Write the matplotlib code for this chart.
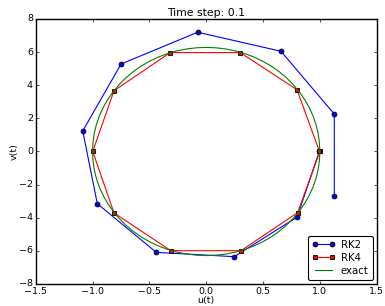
import matplotlib
matplotlib.use("Agg")
import matplotlib.pyplot as plt

plt.style.use("classic")

# RK2 solution points (u, v)
rk2_u = [0.995, 0.800, 0.247, -0.439, -0.958, -1.086, -0.749, -0.075, 0.658, 1.127, 1.127]
rk2_v = [0.0, -3.96, -6.35, -6.09, -3.15, 1.24, 5.28, 7.20, 6.05, 2.26, -2.67]

# RK4 solution points (u, v)
rk4_u = [1.000, 0.805, 0.306, -0.310, -0.811, -0.998, -0.811, -0.316, 0.300, 0.799, 0.995]
rk4_v = [0.0, -3.69, -5.99, -5.99, -3.71, 0.0, 3.67, 5.97, 5.97, 3.73, 0.03]

# exact solution
exact_u = [1.000, 0.996, 0.985, 0.966, 0.940, 0.906, 0.866, 0.819, 0.766, 0.707,
           0.643, 0.574, 0.500, 0.423, 0.342, 0.259, 0.174, 0.087, 0.000,
           -0.087, -0.174, -0.259, -0.342, -0.423, -0.500, -0.574, -0.643, -0.707,
           -0.766, -0.819, -0.866, -0.906, -0.940, -0.966, -0.985, -0.996, -1.000,
           -0.996, -0.985, -0.966, -0.940, -0.906, -0.866, -0.819, -0.766, -0.707,
           -0.643, -0.574, -0.500, -0.423, -0.342, -0.259, -0.174, -0.087, 0.000,
           0.087, 0.174, 0.259, 0.342, 0.423, 0.500, 0.574, 0.643, 0.707,
           0.766, 0.819, 0.866, 0.906, 0.940, 0.966, 0.985, 0.996, 1.000]
exact_v = [0.000, -0.548, -1.091, -1.626, -2.149, -2.655, -3.142, -3.604, -4.039, -4.443,
           -4.813, -5.147, -5.441, -5.694, -5.904, -6.069, -6.188, -6.259, -6.283,
           -6.259, -6.188, -6.069, -5.904, -5.694, -5.441, -5.147, -4.813, -4.443,
           -4.039, -3.604, -3.142, -2.655, -2.149, -1.626, -1.091, -0.548, 0.000,
           0.548, 1.091, 1.626, 2.149, 2.655, 3.142, 3.604, 4.039, 4.443,
           4.813, 5.147, 5.441, 5.694, 5.904, 6.069, 6.188, 6.259, 6.283,
           6.259, 6.188, 6.069, 5.904, 5.694, 5.441, 5.147, 4.813, 4.443,
           4.039, 3.604, 3.142, 2.655, 2.149, 1.626, 1.091, 0.548, 0.000]

title = "Time step: 0.1"
xticks = [-1.5, -1.0, -0.5, 0.0, 0.5, 1.0, 1.5]
yticks = [-8, -6, -4, -2, 0, 2, 4, 6, 8]

fig = plt.figure(figsize=(3.85, 3.06), dpi=100, facecolor="white")
ax = fig.add_axes([0.0927, 0.0719, 0.8857, 0.8661])

lw = 0.8
ms = 3.5
ax.plot(rk2_u, rk2_v, "b-o", lw=lw, ms=ms, mew=0.6, label="RK2")
ax.plot(rk4_u, rk4_v, "r-s", lw=lw, ms=ms, mew=0.6, label="RK4")
ax.plot(exact_u, exact_v, "g-", lw=lw, label="exact")

ax.set_xlim(-1.5, 1.5)
ax.set_ylim(-8, 8)
ax.set_xticks(xticks)
ax.set_yticks(yticks)
ax.tick_params(labelsize=6.8, length=2.5, width=0.5, pad=2)
for s in ax.spines.values():
    s.set_linewidth(1.0)

ax.set_title(title, fontsize=7.8, pad=2)
ax.set_xlabel("u(t)", fontsize=6.8, labelpad=0)
ax.set_ylabel("v(t)", fontsize=6.8, labelpad=0)

leg = ax.legend(loc="lower right", fontsize=7.3, numpoints=2, fancybox=True,
                handlelength=2.2, borderpad=0.4, labelspacing=0.3,
                handletextpad=0.6, borderaxespad=0.4)
leg.get_frame().set_linewidth(0.8)

fig.savefig("out.png", dpi=100, facecolor="white")
